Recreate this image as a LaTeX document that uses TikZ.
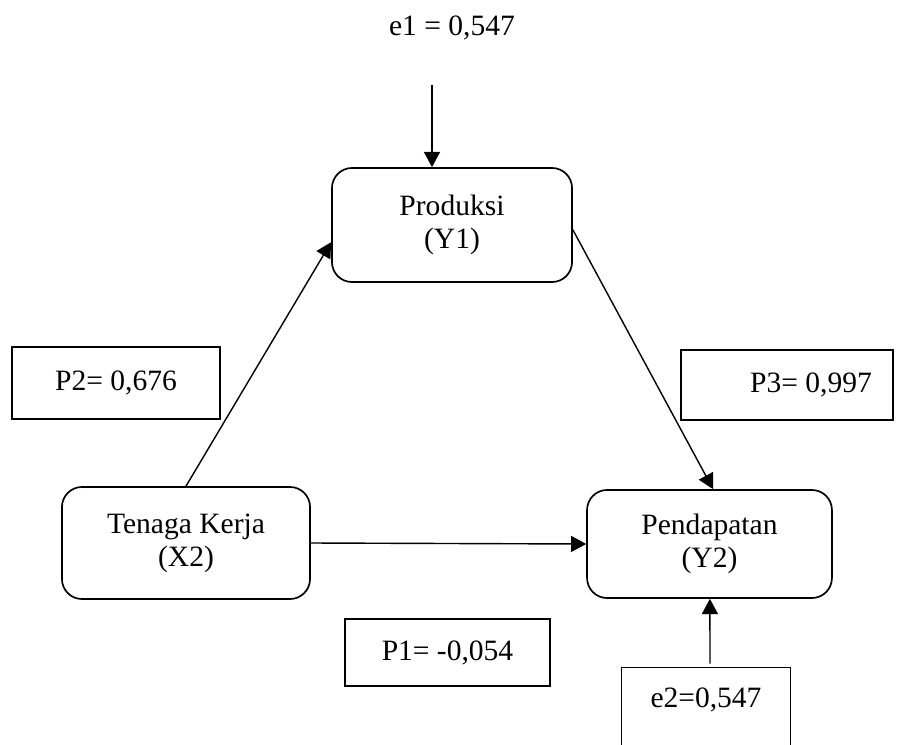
\documentclass[tikz,border=0pt]{standalone}
\usepackage{fontspec}
\setmainfont{Liberation Serif}
\usetikzlibrary{arrows.meta,calc}

\tikzset{
	varbox/.style={draw, line width=1.2pt, rounded corners=0.5cm, align=center,
		minimum width=6.0cm, minimum height=2.85cm},
	valbox/.style={draw, line width=1pt, minimum width=5.2cm, minimum height=1.8cm},
	path/.style={line width=1pt, -{Triangle[length=0.38cm,width=0.4cm]}}
}

\begin{document}
\begin{tikzpicture}[x=0.025cm, y=-0.025cm, font=\fontsize{21}{23.5}\selectfont]
			%%%%% START %%%%%
			
			\useasboundingbox (0, 0) rectangle (904, 745);
			
			% variabel
			\node[varbox] (prod) at (452, 225) {Produksi\\(Y1)};
			\node[varbox, minimum width=6.2cm, minimum height=2.8cm] (tk) at (186, 543) {Tenaga Kerja\\(X2)};
			\node[varbox, minimum width=6.12cm, minimum height=2.7cm] (pend) at (709.5, 544) {Pendapatan\\(Y2)};
			
			% koefisien jalur
			\node[valbox, minimum height=1.8cm] (p2) at (116, 383) {P2= 0,676};
			\node[valbox, minimum width=5.3cm, minimum height=1.75cm] (p3) at (787, 385) {\hspace{1.2cm}P3= 0,997};
			\node[valbox, minimum width=5.12cm, minimum height=1.68cm] (p1) at (447.5, 652.5) {P1= -0,054};
			
			% error
			\node (e1) at (452, 28) {e1 = 0,547};
			\coordinate (e1top) at (432, 85);
			\node[minimum width=4.2cm, minimum height=1.6cm] (e2) at (706, 700) {e2=0,547};
			\draw[line width=1pt] ([yshift=-2cm]e2.north west) -- (e2.north west) -- (e2.north east) -- ([yshift=-2cm]e2.north east);
			
			% panah
			\draw[path] (e1top) -- (e1top |- prod.north);
			\draw[path] (tk.north) -- ([yshift=-0.43cm]prod.west);
			\draw[path] ([yshift=-0.12cm]prod.east) -- ([xshift=0.09cm]pend.north);
			\draw[path] (tk.east) -- (pend.west);
			\draw[path] ([xshift=0.1cm, yshift=0.1cm]e2.north) -- ([xshift=0.01cm]pend.south);
			
			%%%%% END %%%%%
\end{tikzpicture}
\end{document}
